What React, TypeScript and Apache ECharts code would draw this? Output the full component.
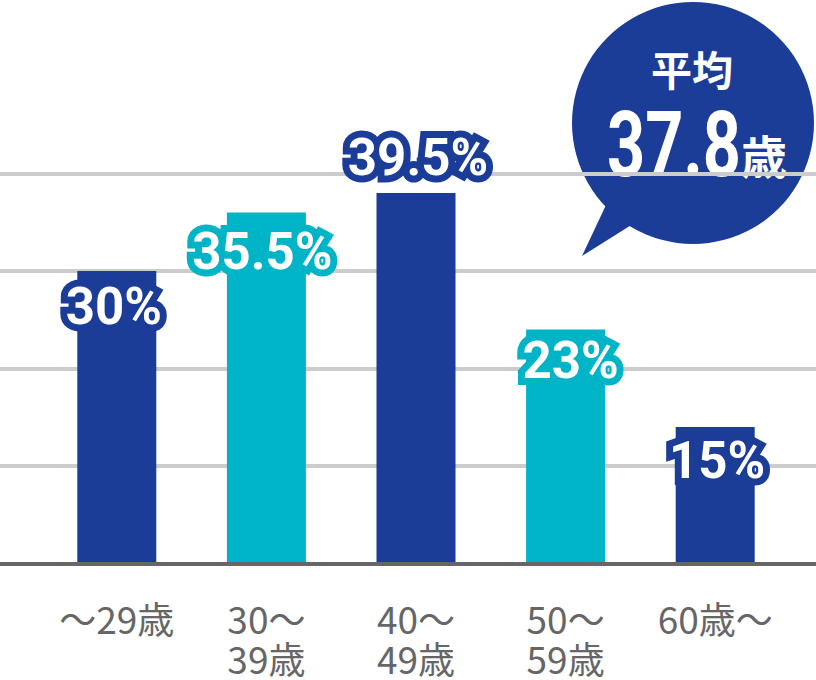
import { useEffect, useRef } from 'react';
import * as echarts from 'echarts';

// 年齢層ごとの構成比
const categories = ['〜29歳', '30〜\n39歳', '40〜\n49歳', '50〜\n59歳', '60歳〜'];
// 棒の高さ
const barValues = [30, 36, 38, 24, 14];
// 棒に載せる表示ラベル
const valueLabels = ['30%', '35.5%', '39.5%', '23%', '15%'];
const yTicks = { min: 0, max: 40, interval: 10 };

const averageTitle = '平均';
const averageValue = '37.8';
const averageUnit = '歳';

const NAVY = '#1b3d98';
const CYAN = '#00b4c8';
const barColors = [NAVY, CYAN, NAVY, CYAN, NAVY];

/** ラベル位置（棒の内側上端 or 棒の上） */
const labelPlacement: { position: 'insideTop' | 'top'; distance: number; dx: number }[] = [
  { position: 'insideTop', distance: 10, dx: -3 },
  { position: 'insideTop', distance: 13, dx: -4 },
  { position: 'top', distance: 10, dx: 2 },
  { position: 'insideTop', distance: 5, dx: 5 },
  { position: 'insideTop', distance: 8, dx: 2 },
];

const GRID_TOP = 173.5;
const GRID_BOTTOM = 116.5;

export default function App() {
  const ref = useRef<HTMLDivElement>(null);

  useEffect(() => {
    if (!ref.current) return;
    const chart = echarts.init(ref.current, null, { renderer: 'svg' });

    chart.setOption({
      animation: false,
      grid: [
        // 罫線・軸線用（全幅）
        { left: 0, right: 0, top: GRID_TOP, bottom: GRID_BOTTOM },
        // 棒グラフ用
        { left: 42, right: 26, top: GRID_TOP, bottom: GRID_BOTTOM },
      ],
      xAxis: [
        {
          type: 'category',
          gridIndex: 0,
          data: [''],
          axisLine: { show: true, lineStyle: { color: '#666666', width: 4 } },
          axisTick: { show: false },
          axisLabel: { show: false },
          splitLine: { show: false },
          z: 5,
        },
        {
          type: 'category',
          gridIndex: 1,
          data: categories,
          axisLine: { show: false },
          axisTick: { show: false },
          splitLine: { show: false },
          axisLabel: {
            interval: 0,
            margin: 34,
            color: '#666666',
            fontSize: 37,
            lineHeight: 40,
            fontFamily: '"Noto Sans CJK JP", sans-serif',
          },
        },
      ],
      yAxis: [
        {
          type: 'value',
          gridIndex: 0,
          ...yTicks,
          axisLine: { show: false },
          axisTick: { show: false },
          axisLabel: { show: false },
          splitLine: { show: true, lineStyle: { color: '#cccccc', width: 4 } },
        },
        {
          type: 'value',
          gridIndex: 1,
          ...yTicks,
          axisLine: { show: false },
          axisTick: { show: false },
          axisLabel: { show: false },
          splitLine: { show: false },
        },
      ],
      series: [
        {
          type: 'bar',
          xAxisIndex: 1,
          yAxisIndex: 1,
          barWidth: 79,
          data: barValues.map((v, i) => ({
            value: v,
            itemStyle: { color: barColors[i] },
            label: {
              position: labelPlacement[i].position,
              distance: labelPlacement[i].distance,
              offset: [labelPlacement[i].dx, 0],
              textBorderColor: barColors[i],
            },
          })),
          label: {
            show: true,
            formatter: (p: { dataIndex: number }) => valueLabels[p.dataIndex],
            color: '#ffffff',
            fontFamily: 'Roboto, sans-serif',
            fontWeight: 'bold',
            fontSize: 51,
            textBorderWidth: 14,
          },
        },
      ],
      graphic: [
        {
          type: 'group',
          z: 100,
          children: [
            {
              type: 'circle',
              shape: { cx: 693, cy: 123, r: 121 },
              style: { fill: NAVY },
            },
            {
              type: 'polygon',
              shape: { points: [[614, 188], [582, 256], [652, 212]] },
              style: { fill: NAVY },
            },
            {
              type: 'text',
              x: 692,
              y: 68,
              style: {
                text: averageTitle,
                fill: '#ffffff',
                font: 'bold 41px "Noto Sans CJK JP", sans-serif',
                align: 'center',
                verticalAlign: 'middle',
                textAlign: 'center',
                textVerticalAlign: 'middle',
              },
            },
            {
              type: 'text',
              x: 607,
              y: 145,
              scaleX: 0.74,
              style: {
                text: averageValue,
                fill: '#ffffff',
                font: 'bold 90px Roboto, sans-serif',
                align: 'left',
                verticalAlign: 'middle',
                textAlign: 'left',
                textVerticalAlign: 'middle',
              },
            },
            {
              type: 'text',
              x: 741,
              y: 154,
              style: {
                text: averageUnit,
                fill: '#ffffff',
                font: 'bold 46px "Noto Sans CJK JP", sans-serif',
                align: 'left',
                verticalAlign: 'middle',
                textAlign: 'left',
                textVerticalAlign: 'middle',
              },
            },
          ],
        },
      ],
    });

    return () => chart.dispose();
  }, []);

  return (
    <div
      ref={ref}
      style={{ position: 'absolute', left: 0, top: 0, width: 816, height: 680, background: '#ffffff' }}
    />
  );
}
